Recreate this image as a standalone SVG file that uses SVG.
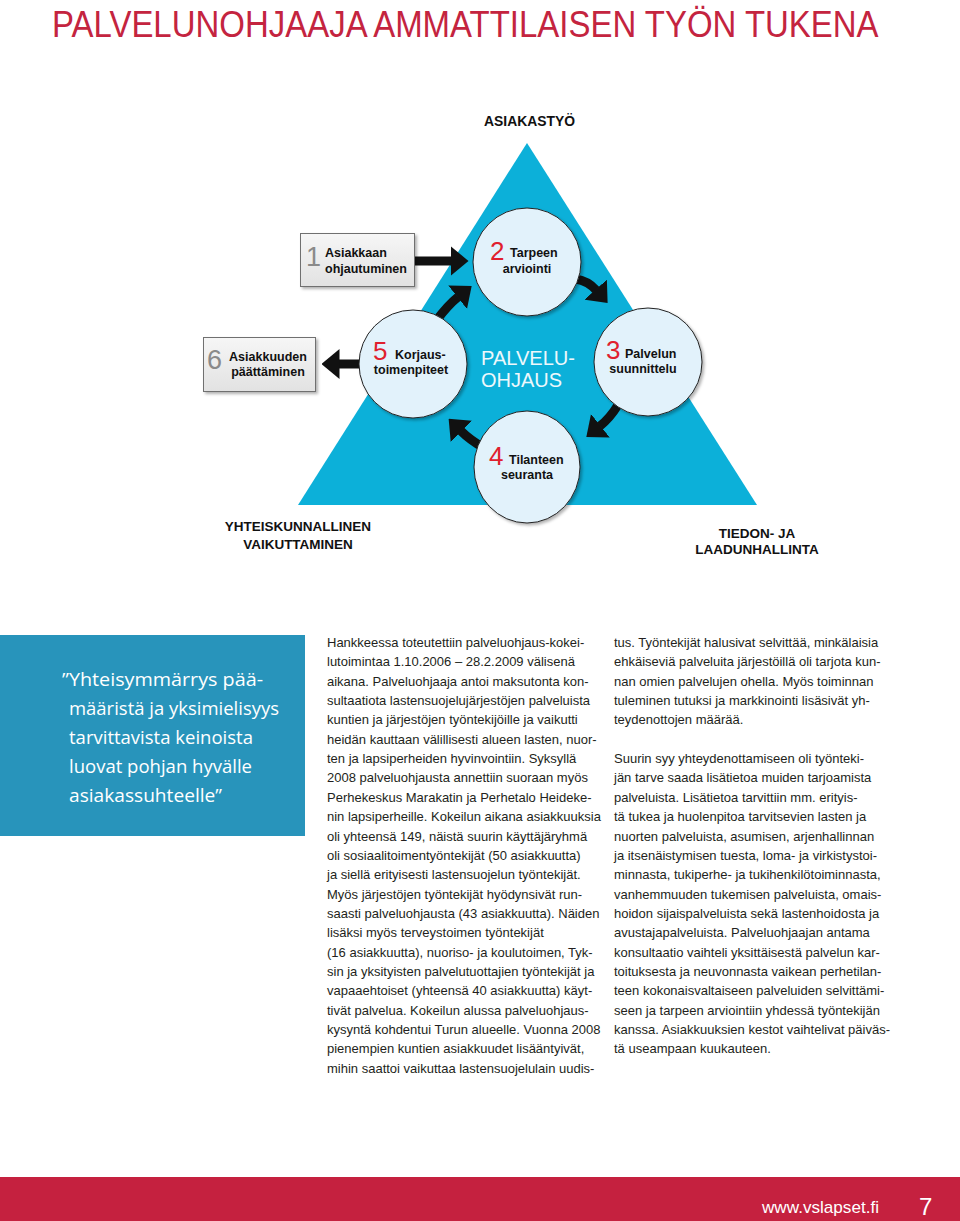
<svg xmlns="http://www.w3.org/2000/svg" width="960" height="1221" viewBox="0 0 960 1221">
<style>
.lbl{font-family:"Liberation Sans",Arial,sans-serif;font-weight:bold;font-size:12.5px;fill:#111}
.num{font-family:"Liberation Sans",Arial,sans-serif;font-size:26px;fill:#e0202e}
.numg{font-family:"Liberation Sans",Arial,sans-serif;font-size:27px;fill:#8a8a8a}
.cap{font-family:"Liberation Sans",Arial,sans-serif;font-weight:bold;font-size:13.5px;fill:#111;text-anchor:middle}
.body{font-family:"Liberation Sans",Arial,sans-serif;font-size:13px;fill:#231f20}
.quote{font-family:"Open Sans","Liberation Sans",sans-serif;font-size:19px;fill:#ffffff}
.circ{fill:#e2f2fb;stroke:#222;stroke-width:1}
.box{fill:url(#boxg);stroke:#6f6f6f;stroke-width:1}
.arr{fill:none;stroke:#111;stroke-width:9;marker-end:url(#head)}
</style>
<defs>
<linearGradient id="boxg" x1="0" y1="0" x2="0" y2="1">
<stop offset="0" stop-color="#f6f6f6"/><stop offset="1" stop-color="#e2e2e2"/>
</linearGradient>
<filter id="sh" x="-20%" y="-20%" width="140%" height="140%">
<feDropShadow dx="2" dy="2" stdDeviation="1.5" flood-color="#000" flood-opacity="0.3"/>
</filter>
<marker id="head" viewBox="0 0 18 30" refX="0.5" refY="15" markerWidth="18" markerHeight="30" markerUnits="userSpaceOnUse" orient="auto">
<path d="M0,0 L18,15 L0,30 Z" fill="#111"/>
</marker>
</defs>
<rect width="960" height="1221" fill="#fff"/>
<text transform="translate(52,37) scale(0.891,1)" x="0" y="0" font-family="Liberation Sans,Arial,sans-serif" font-size="37" fill="#c4243f">PALVELUNOHJAAJA AMMATTILAISEN TYÖN TUKENA</text>
<text x="484" y="126" font-family="Liberation Sans,Arial,sans-serif" font-weight="bold" font-size="14" fill="#111" textLength="91" lengthAdjust="spacingAndGlyphs">ASIAKASTYÖ</text>
<g id="triangle"><polygon points="527,143 298,505 757,505" fill="#0cb0d9"/></g>
<g id="connectors">
<path class="arr" d="M414,261 L451,261"/>
<path class="arr" d="M436,321 Q448,305 458,297"/>
<path class="arr" d="M576,279 Q588,281 596,290"/>
<path class="arr" d="M618,405 Q610,418 600,426"/>
<path class="arr" d="M484,448 Q470,440 461,431"/>
<path class="arr" d="M359,364 L339,364"/>
</g>
<g id="node-1">
<rect class="box" x="300.5" y="233.5" width="114" height="53" filter="url(#sh)"/>
<text class="numg" x="306" y="266">1</text>
<text class="lbl" x="325" y="257">Asiakkaan</text>
<text class="lbl" x="325" y="273">ohjautuminen</text>
</g>
<g id="node-6">
<rect class="box" x="203.5" y="337.5" width="112" height="54" filter="url(#sh)"/>
<text class="numg" x="207" y="369">6</text>
<text class="lbl" x="268" y="361" text-anchor="middle">Asiakkuuden</text>
<text class="lbl" x="268" y="376" text-anchor="middle">päättäminen</text>
</g>
<g id="node-2">
<circle class="circ" cx="527" cy="262" r="54" filter="url(#sh)"/>
<text class="num" x="490" y="260">2</text>
<text class="lbl" x="510" y="257">Tarpeen</text>
<text class="lbl" x="527" y="273" text-anchor="middle">arviointi</text>
</g>
<g id="node-3">
<circle class="circ" cx="648" cy="362" r="54" filter="url(#sh)"/>
<text class="num" x="606" y="359">3</text>
<text class="lbl" x="625" y="358">Palvelun</text>
<text class="lbl" x="643" y="373" text-anchor="middle">suunnittelu</text>
</g>
<g id="node-5">
<circle class="circ" cx="413" cy="364" r="54" filter="url(#sh)"/>
<text class="num" x="373" y="360">5</text>
<text class="lbl" x="395" y="359">Korjaus-</text>
<text class="lbl" x="411" y="374" text-anchor="middle">toimenpiteet</text>
</g>
<g id="node-4">
<ellipse class="circ" cx="527" cy="467" rx="53" ry="56" filter="url(#sh)"/>
<text class="num" x="489" y="465">4</text>
<text class="lbl" x="509" y="464">Tilanteen</text>
<text class="lbl" x="527" y="479" text-anchor="middle">seuranta</text>
</g>
<g id="center">
<text x="481" y="365" font-family="Liberation Sans,Arial,sans-serif" font-size="20" fill="#eef8fc" textLength="94" lengthAdjust="spacingAndGlyphs">PALVELU-</text>
<text x="481" y="387" font-family="Liberation Sans,Arial,sans-serif" font-size="20" fill="#eef8fc" textLength="81" lengthAdjust="spacingAndGlyphs">OHJAUS</text>
</g>
<g id="label-left">
<text class="cap" x="298" y="531">YHTEISKUNNALLINEN</text>
<text class="cap" x="298" y="549">VAIKUTTAMINEN</text>
</g>
<g id="label-right">
<text class="cap" x="757" y="538">TIEDON- JA</text>
<text class="cap" x="757" y="554">LAADUNHALLINTA</text>
</g>
<g id="quote">
<rect x="0" y="635" width="305" height="201" fill="#2894bb"/>
<text class="quote" x="62" y="686" textLength="201" lengthAdjust="spacingAndGlyphs">”Yhteisymmärrys pää-</text>
<text class="quote" x="69" y="715" textLength="210" lengthAdjust="spacingAndGlyphs">määristä ja yksimielisyys</text>
<text class="quote" x="69" y="744" textLength="184" lengthAdjust="spacingAndGlyphs">tarvittavista keinoista</text>
<text class="quote" x="69" y="773" textLength="183" lengthAdjust="spacingAndGlyphs">luovat pohjan hyvälle</text>
<text class="quote" x="69" y="802" textLength="153" lengthAdjust="spacingAndGlyphs">asiakassuhteelle”</text>
</g>
<g id="column-1">
<text class="body" x="327" y="647">
<tspan x="327">Hankkeessa toteutettiin palveluohjaus-kokei-</tspan>
<tspan x="327" dy="19.35">lutoimintaa 1.10.2006 – 28.2.2009 välisenä</tspan>
<tspan x="327" dy="19.35">aikana. Palveluohjaaja antoi maksutonta kon-</tspan>
<tspan x="327" dy="19.35">sultaatiota lastensuojelujärjestöjen palveluista</tspan>
<tspan x="327" dy="19.35">kuntien ja järjestöjen työntekijöille ja vaikutti</tspan>
<tspan x="327" dy="19.35">heidän kauttaan välillisesti alueen lasten, nuor-</tspan>
<tspan x="327" dy="19.35">ten ja lapsiperheiden hyvinvointiin. Syksyllä</tspan>
<tspan x="327" dy="19.35">2008 palveluohjausta annettiin suoraan myös</tspan>
<tspan x="327" dy="19.35">Perhekeskus Marakatin ja Perhetalo Heideke-</tspan>
<tspan x="327" dy="19.35">nin lapsiperheille. Kokeilun aikana asiakkuuksia</tspan>
<tspan x="327" dy="19.35">oli yhteensä 149, näistä suurin käyttäjäryhmä</tspan>
<tspan x="327" dy="19.35">oli sosiaalitoimentyöntekijät (50 asiakkuutta)</tspan>
<tspan x="327" dy="19.35">ja siellä erityisesti lastensuojelun työntekijät.</tspan>
<tspan x="327" dy="19.35">Myös järjestöjen työntekijät hyödynsivät run-</tspan>
<tspan x="327" dy="19.35">saasti palveluohjausta (43 asiakkuutta). Näiden</tspan>
<tspan x="327" dy="19.35">lisäksi myös terveystoimen työntekijät</tspan>
<tspan x="327" dy="19.35">(16 asiakkuutta), nuoriso- ja koulutoimen, Tyk-</tspan>
<tspan x="327" dy="19.35">sin ja yksityisten palvelutuottajien työntekijät ja</tspan>
<tspan x="327" dy="19.35">vapaaehtoiset (yhteensä 40 asiakkuutta) käyt-</tspan>
<tspan x="327" dy="19.35">tivät palvelua. Kokeilun alussa palveluohjaus-</tspan>
<tspan x="327" dy="19.35">kysyntä kohdentui Turun alueelle. Vuonna 2008</tspan>
<tspan x="327" dy="19.35">pienempien kuntien asiakkuudet lisääntyivät,</tspan>
<tspan x="327" dy="19.35">mihin saattoi vaikuttaa lastensuojelulain uudis-</tspan>
</text>
</g>
<g id="column-2">
<text class="body" x="614" y="647">
<tspan x="614">tus. Työntekijät halusivat selvittää, minkälaisia</tspan>
<tspan x="614" dy="19.35">ehkäiseviä palveluita järjestöillä oli tarjota kun-</tspan>
<tspan x="614" dy="19.35">nan omien palvelujen ohella. Myös toiminnan</tspan>
<tspan x="614" dy="19.35">tuleminen tutuksi ja markkinointi lisäsivät yh-</tspan>
<tspan x="614" dy="19.35">teydenottojen määrää.</tspan>
<tspan x="614" dy="38.7">Suurin syy yhteydenottamiseen oli työnteki-</tspan>
<tspan x="614" dy="19.35">jän tarve saada lisätietoa muiden tarjoamista</tspan>
<tspan x="614" dy="19.35">palveluista. Lisätietoa tarvittiin mm. erityis-</tspan>
<tspan x="614" dy="19.35">tä tukea ja huolenpitoa tarvitsevien lasten ja</tspan>
<tspan x="614" dy="19.35">nuorten palveluista, asumisen, arjenhallinnan</tspan>
<tspan x="614" dy="19.35">ja itsenäistymisen tuesta, loma- ja virkistystoi-</tspan>
<tspan x="614" dy="19.35">minnasta, tukiperhe- ja tukihenkilötoiminnasta,</tspan>
<tspan x="614" dy="19.35">vanhemmuuden tukemisen palveluista, omais-</tspan>
<tspan x="614" dy="19.35">hoidon sijaispalveluista sekä lastenhoidosta ja</tspan>
<tspan x="614" dy="19.35">avustajapalveluista. Palveluohjaajan antama</tspan>
<tspan x="614" dy="19.35">konsultaatio vaihteli yksittäisestä palvelun kar-</tspan>
<tspan x="614" dy="19.35">toituksesta ja neuvonnasta vaikean perhetilan-</tspan>
<tspan x="614" dy="19.35">teen kokonaisvaltaiseen palveluiden selvittämi-</tspan>
<tspan x="614" dy="19.35">seen ja tarpeen arviointiin yhdessä työntekijän</tspan>
<tspan x="614" dy="19.35">kanssa. Asiakkuuksien kestot vaihtelivat päiväs-</tspan>
<tspan x="614" dy="19.35">tä useampaan kuukauteen.</tspan>
</text>
</g>
<g id="footer">
<rect x="0" y="1177" width="960" height="44" fill="#c5213f"/>
<text x="762" y="1213" font-family="Liberation Sans,Arial,sans-serif" font-size="17" fill="#fff" textLength="117" lengthAdjust="spacingAndGlyphs">www.vslapset.fi</text>
<text x="919" y="1215" font-family="Liberation Sans,Arial,sans-serif" font-size="24" fill="#fff">7</text>
</g>
</svg>
